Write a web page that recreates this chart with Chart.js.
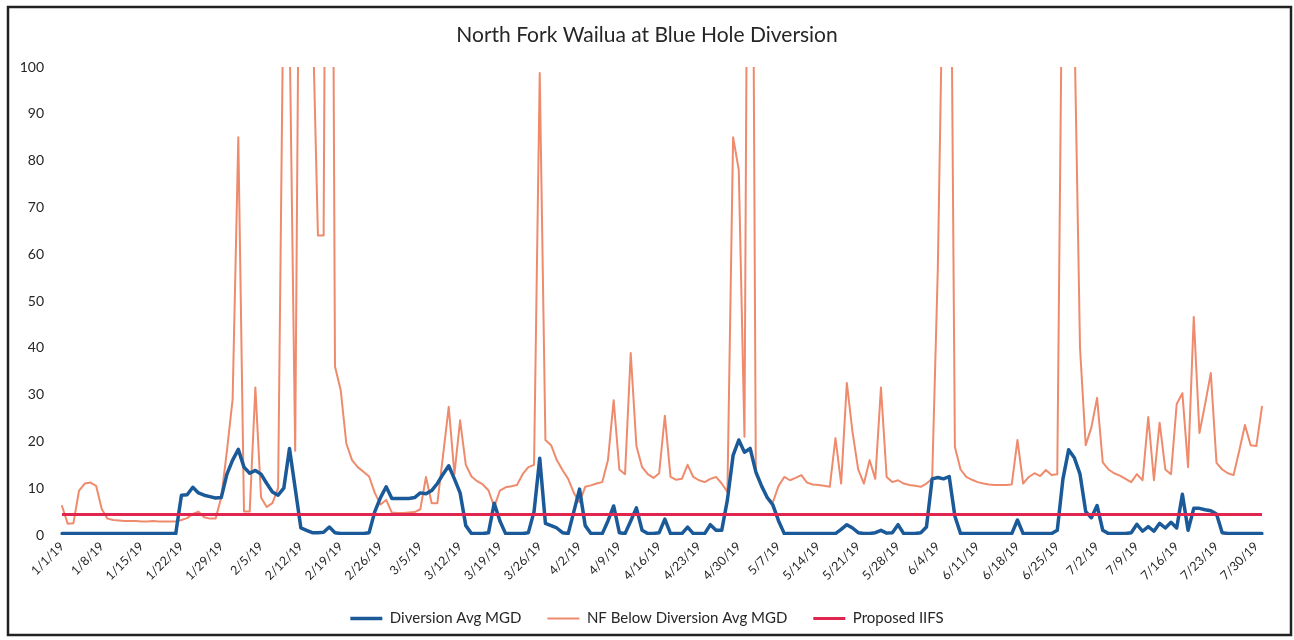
<!DOCTYPE html>
<html>
<head>
<meta charset="utf-8">
<script src="https://cdn.jsdelivr.net/npm/chart.js@4.4.1/dist/chart.umd.min.js"></script>
<style>
  html, body { margin: 0; padding: 0; background: #fff; }
  #wrap { width: 1294px; height: 640px; }
</style>
</head>
<body>
<div id="wrap"><canvas id="c" width="1294" height="640"></canvas></div>
<script>
// ---------------- data ----------------
const TITLE = 'North Fork Wailua at Blue Hole Diversion';
const SERIES_NAMES = ['Diversion Avg MGD', 'NF Below Diversion Avg MGD', 'Proposed IIFS'];

// categories: daily dates 1/1/19 .. 7/31/19
const MONTH_DAYS_2019 = [31, 28, 31, 30, 31, 30, 31];
const categories = [];
for (let m = 0; m < MONTH_DAYS_2019.length; m++) {
  for (let d = 1; d <= MONTH_DAYS_2019[m]; d++) categories.push((m + 1) + '/' + d + '/19');
}
const TICK_EVERY = 7;                 // a date label every 7th day
const yTicks = [0, 10, 20, 30, 40, 50, 60, 70, 80, 90, 100];

// Diversion Avg MGD (one value per day, a row per week)
const diversion = [
  0.3, 0.3, 0.3, 0.3, 0.3, 0.3, 0.3,
  0.3, 0.3, 0.3, 0.3, 0.3, 0.3, 0.3,
  0.3, 0.3, 0.3, 0.3, 0.3, 0.3, 0.3,
  8.5, 8.6, 10.2, 9, 8.5, 8.2, 7.9,
  8, 13, 16, 18.3, 14.5, 13.2, 13.8,
  13, 11, 9.2, 8.5, 10, 18.5, 10,
  1.5, 1, 0.5, 0.5, 0.6, 1.7, 0.5,
  0.3, 0.3, 0.3, 0.3, 0.3, 0.5, 5,
  8, 10.3, 7.8, 7.8, 7.8, 7.8, 8,
  9, 8.8, 9.5, 11, 13, 14.8, 12,
  9, 2, 0.3, 0.3, 0.3, 0.5, 6.8,
  3, 0.3, 0.3, 0.3, 0.3, 0.5, 5,
  16.4, 2.5, 2, 1.5, 0.5, 0.3, 5,
  9.8, 2, 0.3, 0.3, 0.3, 3, 6.2,
  0.5, 0.3, 3, 5.8, 1, 0.3, 0.3,
  0.5, 3.4, 0.3, 0.3, 0.3, 1.7, 0.3,
  0.3, 0.3, 2.2, 1, 1, 7.5, 17,
  20.3, 17.7, 18.5, 13.5, 10.5, 8, 6.4,
  3, 0.3, 0.3, 0.3, 0.3, 0.3, 0.3,
  0.3, 0.3, 0.3, 0.3, 1.2, 2.2, 1.5,
  0.5, 0.3, 0.3, 0.5, 1, 0.4, 0.5,
  2.2, 0.3, 0.3, 0.3, 0.5, 1.7, 12,
  12.3, 12, 12.5, 4, 0.3, 0.3, 0.3,
  0.3, 0.3, 0.3, 0.3, 0.3, 0.3, 0.3,
  3.2, 0.3, 0.3, 0.3, 0.3, 0.3, 0.3,
  1, 12, 18.2, 16.5, 13, 5, 3.7,
  6.3, 1, 0.3, 0.3, 0.3, 0.3, 0.5,
  2.3, 0.8, 1.8, 0.8, 2.5, 1.5, 2.7,
  1.5, 8.7, 1, 5.7, 5.7, 5.4, 5.2,
  4.5, 0.5, 0.3, 0.3, 0.3, 0.3, 0.3,
  0.3, 0.3
];

// NF Below Diversion Avg MGD (values above 100 run off the top of the axis)
const nfBelow = [
  6.2, 2.4, 2.5, 9.5, 11, 11.2, 10.5,
  5.5, 3.5, 3.2, 3.1, 3.0, 3.0, 3.0,
  2.9, 2.9, 3.0, 2.9, 2.9, 2.9, 2.9,
  3.2, 3.6, 4.5, 5, 3.8, 3.5, 3.5,
  8, 18, 29, 85, 5, 5, 31.5,
  8, 6, 6.8, 10, 125, 110, 18,
  182, 150, 115, 64, 64, 300, 36,
  31, 19.5, 16, 14.5, 13.5, 12.5, 9,
  6.5, 7.5, 4.8, 4.7, 4.7, 4.8, 4.9,
  5.5, 12.4, 6.8, 6.8, 17, 27.4, 13,
  24.5, 15, 12.5, 11.5, 10.8, 9.5, 6,
  9.5, 10.2, 10.4, 10.7, 13, 14.5, 15,
  98.7, 20.3, 19.2, 16, 13.9, 12, 9,
  7, 10.3, 10.6, 11, 11.3, 16, 28.8,
  14, 13, 38.9, 19, 14.5, 13, 12.2,
  13.2, 25.5, 12.4, 11.8, 12, 15, 12.4,
  11.7, 11.3, 12, 12.4, 11, 9.2, 85,
  78, 21, 250, 13, 10.5, 8, 7,
  10.5, 12.4, 11.7, 12.2, 12.8, 11.2, 10.8,
  10.7, 10.5, 10.3, 20.7, 11, 32.5, 22,
  14, 11, 16, 12, 31.5, 12.4, 11.3,
  11.7, 11, 10.7, 10.5, 10.3, 11, 12,
  57, 130, 180, 18.8, 14, 12.4, 11.8,
  11.3, 11, 10.8, 10.7, 10.7, 10.7, 10.8,
  20.3, 11, 12.4, 13.2, 12.6, 13.9, 12.8,
  13, 140, 250, 110, 40, 19.2, 23,
  29.3, 15.5, 14, 13.2, 12.7, 12, 11.3,
  13, 11.7, 25.2, 11.7, 24, 14, 13,
  28, 30.3, 14.5, 46.6, 21.8, 28, 34.6,
  15.4, 14, 13.2, 12.8, 18, 23.5, 19.2,
  19, 27.4
];

// Proposed IIFS: one constant level over the whole period
const IIFS_MGD = 4.4;
const iifsLine = [
  { x: categories[0], y: IIFS_MGD },
  { x: categories[categories.length - 1], y: IIFS_MGD }
];

// ---------------- style ----------------
const FONT = 'Lato, "Open Sans", "Liberation Sans", sans-serif';
const COLORS = { div: '#1b5a98', nf: '#ef8b6d', iifs: '#e0264f' };
const TEXT = '#262626';

const framePlugin = {
  id: 'frame',
  beforeDraw(chart) {
    const ctx = chart.ctx;
    ctx.save();
    ctx.fillStyle = '#ffffff';
    ctx.fillRect(0, 0, chart.width, chart.height);
    ctx.restore();
  },
  afterDraw(chart) {
    const ctx = chart.ctx;
    ctx.save();
    ctx.strokeStyle = '#222';
    ctx.lineWidth = 2.5;
    ctx.strokeRect(8, 7, 1283, 628);
    ctx.restore();
  }
};

new Chart(document.getElementById('c'), {
  type: 'line',
  data: {
    labels: categories,
    datasets: [
      {
        label: SERIES_NAMES[0], data: diversion,
        borderColor: COLORS.div, backgroundColor: COLORS.div,
        borderWidth: 3.5, pointRadius: 0, tension: 0,
        borderJoinStyle: 'round', borderCapStyle: 'round', order: 1
      },
      {
        label: SERIES_NAMES[1], data: nfBelow,
        borderColor: COLORS.nf, backgroundColor: COLORS.nf,
        borderWidth: 2, pointRadius: 0, tension: 0,
        borderJoinStyle: 'round', borderCapStyle: 'round', order: 2
      },
      {
        label: SERIES_NAMES[2], data: iifsLine,
        borderColor: COLORS.iifs, backgroundColor: COLORS.iifs,
        borderWidth: 3, pointRadius: 0, tension: 0, order: 0
      }
    ]
  },
  options: {
    responsive: false,
    animation: false,
    devicePixelRatio: 1,
    events: [],
    layout: { padding: { left: 0, right: 0, top: 0, bottom: 4 } },
    plugins: {
      title: {
        display: true, text: TITLE, color: TEXT,
        font: { family: FONT, size: 21, weight: 'normal' },
        padding: { top: 22.4, bottom: 19.4 }
      },
      legend: {
        position: 'bottom',
        labels: {
          usePointStyle: true, pointStyle: 'line', pointStyleWidth: 32,
          font: { family: FONT, size: 15 }, color: TEXT, padding: 26,
          sort: (a, b) => a.datasetIndex - b.datasetIndex
        }
      },
      tooltip: { enabled: false }
    },
    scales: {
      x: {
        type: 'category', offset: false,
        grid: { display: false, drawTicks: false },
        border: { display: false },
        ticks: {
          autoSkip: false, maxRotation: 45, minRotation: 45, padding: 4,
          font: { family: FONT, size: 12.5 }, color: TEXT,
          callback: (v, i) => (i % TICK_EVERY === 0 ? categories[i] : '')
        },
        afterFit: (s) => { s.height = 50; }
      },
      y: {
        type: 'linear', min: 0, max: 100,
        grid: { display: false, drawTicks: false },
        border: { display: false },
        ticks: { padding: 18, font: { family: FONT, size: 14 }, color: TEXT },
        afterBuildTicks: (s) => { s.ticks = yTicks.map(v => ({ value: v })); },
        afterFit: (s) => { s.width = 62; }
      },
      yRightSpace: {
        type: 'linear', position: 'right', display: true,
        grid: { display: false, drawTicks: false },
        border: { display: false },
        ticks: { display: false },
        afterFit: (s) => { s.width = 32; }
      }
    }
  },
  plugins: [framePlugin]
});
</script>
</body>
</html>
